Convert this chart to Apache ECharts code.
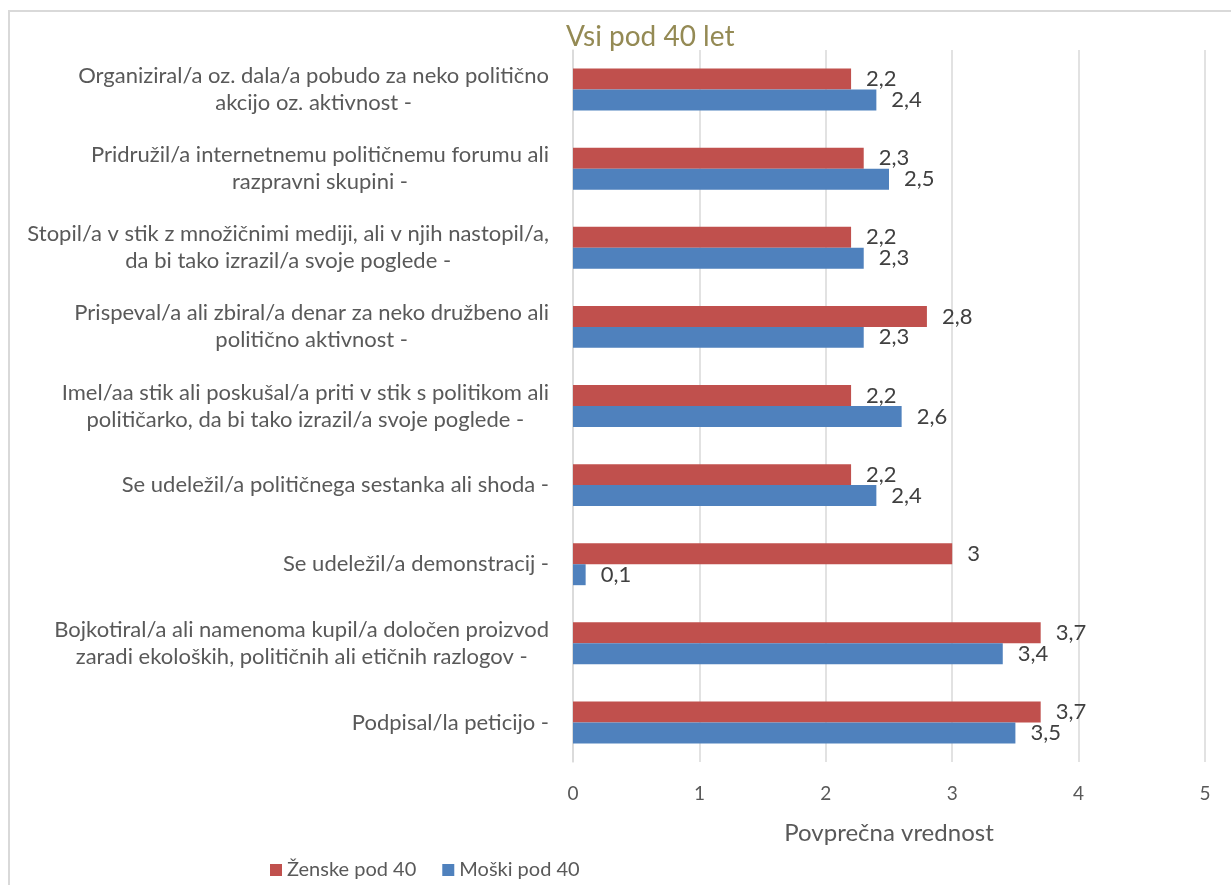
<!DOCTYPE html>
<html>
<head>
<meta charset="utf-8">
<script src="https://cdn.jsdelivr.net/npm/echarts@6/dist/echarts.min.js"></script>
<style>
html,body{margin:0;padding:0;background:#fff;}
#chart{width:1231px;height:885px;}
</style>
</head>
<body>
<div id="chart"></div>
<script>
const categories = [
  "Organiziral/a oz. dala/a pobudo za neko politično\nakcijo oz. aktivnost -",
  "Pridružil/a internetnemu političnemu forumu ali\nrazpravni skupini -",
  "Stopil/a v stik z množičnimi mediji, ali v njih nastopil/a,\nda bi tako izrazil/a svoje poglede -",
  "Prispeval/a ali zbiral/a denar za neko družbeno ali\npolitično aktivnost -",
  "Imel/aa stik ali poskušal/a priti v stik s politikom ali\npolitičarko, da bi tako izrazil/a svoje poglede -",
  "Se udeležil/a političnega sestanka ali shoda -",
  "Se udeležil/a demonstracij -",
  "Bojkotiral/a ali namenoma kupil/a določen proizvod\nzaradi ekoloških, političnih ali etičnih razlogov -",
  "Podpisal/la peticijo -"
];
const zenske = [2.2, 2.3, 2.2, 2.8, 2.2, 2.2, 3, 3.7, 3.7];
const moski = [2.4, 2.5, 2.3, 2.3, 2.6, 2.4, 0.1, 3.4, 3.5];
const seriesNames = ["Ženske pod 40", "Moški pod 40"];
const titleText = "Vsi pod 40 let";
const axisName = "Povprečna vrednost";

const FONT = "Lato";
const chart = echarts.init(document.getElementById('chart'));
const labelFmt = p => String(p.value).replace('.', ',');
chart.setOption({
  animation: false,
  backgroundColor: '#fff',
  textStyle: { fontFamily: FONT },
  graphic: [{
    type: 'rect', shape: { x: 9, y: 11, width: 1240, height: 900 },
    style: { fill: 'none', stroke: '#d9d9d9', lineWidth: 2 }, silent: true, z: -10
  }],
  title: {
    text: titleText, left: 561, top: 18,
    textStyle: { color: '#948A54', fontSize: 28, fontWeight: 'normal', fontFamily: FONT }
  },
  legend: {
    left: 265, top: 855, icon: 'rect', itemWidth: 12, itemHeight: 12, itemGap: 26,
    textStyle: { color: '#595959', fontSize: 20, fontFamily: FONT },
    data: seriesNames
  },
  grid: { left: 573, right: 26, top: 50, bottom: 123, containLabel: false },
  xAxis: {
    type: 'value', min: 0, max: 5, interval: 1,
    name: axisName, nameLocation: 'middle', nameGap: 59,
    nameTextStyle: { color: '#595959', fontSize: 24, fontFamily: FONT },
    axisLine: { show: false }, axisTick: { show: false },
    axisLabel: { color: '#595959', fontSize: 19, margin: 22, fontFamily: FONT },
    splitLine: { show: true, lineStyle: { color: '#d9d9d9', width: 1.5 } }
  },
  yAxis: {
    type: 'category', data: categories, inverse: true,
    axisLine: { show: true, lineStyle: { color: '#d9d9d9', width: 1.5 } },
    axisTick: { show: false },
    axisLabel: {
      margin: 24, align: 'right',
      formatter: v => v.split('\n').map(l => '{c|' + l + '}').join('\n'),
      rich: { c: { color: '#595959', fontSize: 22, lineHeight: 27, align: 'center', fontFamily: FONT } }
    }
  },
  series: [
    {
      name: seriesNames[0], type: 'bar', data: zenske, barGap: '0%', barCategoryGap: '47%',
      itemStyle: { color: '#C0504D' },
      label: { show: true, position: 'right', distance: 15, color: '#404040', fontSize: 22, fontFamily: FONT, formatter: labelFmt }
    },
    {
      name: seriesNames[1], type: 'bar', data: moski,
      itemStyle: { color: '#4F81BD' },
      label: { show: true, position: 'right', distance: 15, color: '#404040', fontSize: 22, fontFamily: FONT, formatter: labelFmt }
    }
  ]
});
</script>
</body>
</html>
